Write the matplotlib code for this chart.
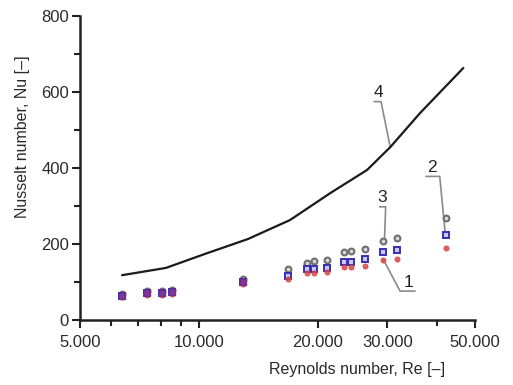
import numpy as np
import matplotlib
matplotlib.use('Agg')
import matplotlib.pyplot as plt
from matplotlib.ticker import FixedLocator, FixedFormatter, NullFormatter

plt.rcParams['font.family'] = ['Liberation Sans', 'DejaVu Sans']

###############################
# data
###############################

# curve 4
re_line = [6400, 8250, 10500, 13300, 17000, 21500, 26650, 30500, 36300, 46650]
nu_line = [118, 137, 176, 213, 263, 334, 395, 455, 545, 663]

# measured points
re_pts = [6400, 7380, 8050, 8540, 12900, 16850, 18750, 19560, 21070,
          23300, 24230, 26400, 29300, 31700, 42150]
nu_3 = [69, 76, 75, 80, 108, 134, 151, 155, 158, 178, 182, 187, 209, 216, 268]
nu_2 = [64, 70, 70, 74, 100, 117, 134, 134, 136, 152, 153, 160, 179, 185, 224]
nu_1 = [60, 66, 66, 69, 95, 108, 123, 123, 127, 139, 140, 143, 158, 160, 190]

x_major = [5000, 10000, 20000, 30000, 50000]
x_labels = ['5.000', '10.000', '20.000', '30.000', '50.000']
x_minor = [6000, 7000, 8000, 9000, 40000]
y_major = [0, 200, 400, 600, 800]
y_minor = [100, 300, 500, 700]

###############################
# plot
###############################

fig = plt.figure(figsize=(5.13, 3.85), dpi=100)
ax = fig.add_axes([0.156, 0.169, 0.770, 0.789])

ax.plot(re_line, nu_line, color='#1a1a1a', lw=1.6, zorder=3)

ax.plot(re_pts, nu_3, 'o', ms=4.2, mfc='#d8d8d8', mec='#6f6f6f', mew=1.5, zorder=4)
ax.plot(re_pts, nu_2, 's', ms=4.2, mfc='#c8c8f0', mec='#3a2fb0', mew=1.4, zorder=5)
ax.plot(re_pts, nu_1, 'o', ms=3.8, mfc='#d9443f', mec='#d9443f', mew=0.5, zorder=6, alpha=0.85)
# low-Re points overlap into purple blobs
ax.plot(re_pts[:5], nu_2[:5], 's', ms=4.5, mfc='#7a3a9a', mec='#7a2a8a', mew=1.0, zorder=7)

ax.set_xscale('log')
ax.set_xlim(5000, 50000)
ax.set_ylim(0, 800)

ax.xaxis.set_major_locator(FixedLocator(x_major))
ax.xaxis.set_major_formatter(FixedFormatter(x_labels))
ax.xaxis.set_minor_locator(FixedLocator(x_minor))
ax.xaxis.set_minor_formatter(NullFormatter())
ax.yaxis.set_major_locator(FixedLocator(y_major))
ax.yaxis.set_minor_locator(FixedLocator(y_minor))

for s in ['top', 'right']:
    ax.spines[s].set_visible(False)
for s in ['left', 'bottom']:
    ax.spines[s].set_linewidth(1.8)
    ax.spines[s].set_color('#222222')

ax.tick_params(which='major', direction='out', length=6, width=1.5, color='#222222',
               labelsize=12, pad=2, labelcolor='#2a2a2a')
ax.tick_params(axis='x', which='major', pad=5)
ax.tick_params(which='minor', direction='out', length=4, width=1.5, color='#222222')

# leader lines and labels
gray = '#8a8a8a'
def leader(xs, ys, txt, tx, ty):
    ax.plot(xs, ys, color=gray, lw=1.2, zorder=2, clip_on=False)
    ax.text(tx, ty, txt, fontsize=12.5, ha='center', va='bottom', color='#222222')

leader([27800, 28900, 30500], [575, 575, 455], '4', 28500, 580)
leader([28700, 29700, 29500], [298, 298, 215], '3', 29100, 302)
leader([29300, 32300, 35200], [159, 76, 76], '1', 34000, 80)
leader([37600, 40700, 42000], [378, 378, 230], '2', 38800, 383)

fig.text(0.043, 0.645, 'Nusselt number, Nu [\u2013]', rotation=90, ha='center', va='center',
         fontsize=11.5, color='#2a2a2a')
fig.text(0.696, 0.04, 'Reynolds number, Re [\u2013]', ha='center', va='center',
         fontsize=11.5, color='#2a2a2a')

plt.savefig('out.png', dpi=100)
